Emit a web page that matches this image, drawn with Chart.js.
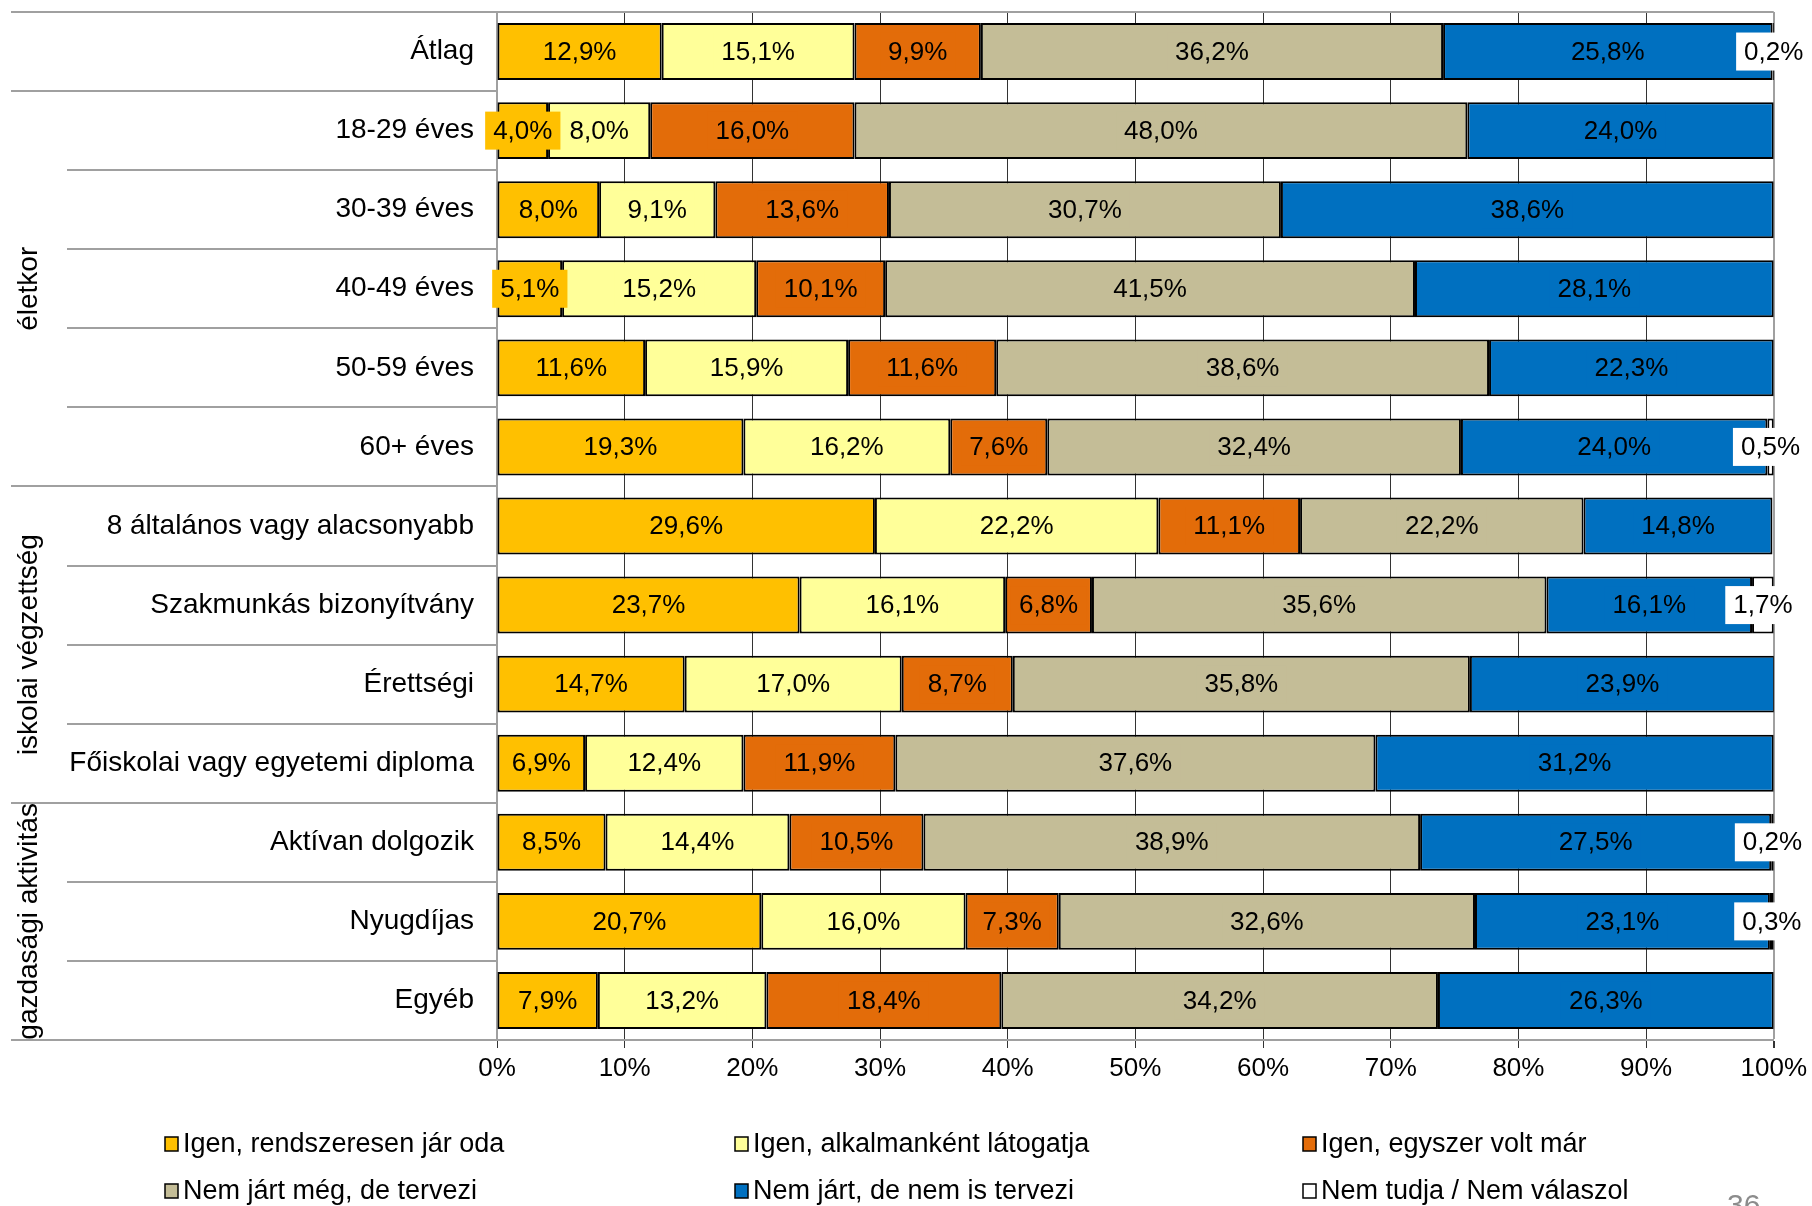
<!DOCTYPE html>
<html>
<head>
<meta charset="utf-8">
<script src="https://cdn.jsdelivr.net/npm/chart.js@4.4.1/dist/chart.umd.min.js"></script>
<style>
  html, body { margin: 0; padding: 0; background: #fff; }
  #wrap { width: 1812px; height: 1206px; position: relative; }
</style>
</head>
<body>
<div id="wrap"><canvas id="chart"></canvas></div>
<script>
// Categories (rows, top to bottom)
const categories = [
    'Átlag',
    '18-29 éves', '30-39 éves', '40-49 éves', '50-59 éves', '60+ éves',
    '8 általános vagy alacsonyabb', 'Szakmunkás bizonyítvány', 'Érettségi', 'Főiskolai vagy egyetemi diploma',
    'Aktívan dolgozik', 'Nyugdíjas', 'Egyéb'
];

// Row groups shown on the left
const groupNames = ['életkor', 'iskolai végzettség', 'gazdasági aktivitás'];
const groupFirst = [1, 6, 10];
const groupLast = [5, 9, 12];

// Series
const seriesNames = [
    'Igen, rendszeresen jár oda',
    'Igen, alkalmanként látogatja',
    'Igen, egyszer volt már',
    'Nem járt még, de tervezi',
    'Nem járt, de nem is tervezi',
    'Nem tudja / Nem válaszol'
];
const seriesColors = ['#FFC000', '#FFFF99', '#E36C09', '#C4BD97', '#0070C0', '#FFFFFF'];

const regularly   = [12.9, 4.0, 8.0, 5.1, 11.6, 19.3, 29.6, 23.7, 14.7, 6.9, 8.5, 20.7, 7.9];
const occasionally = [15.1, 8.0, 9.1, 15.2, 15.9, 16.2, 22.2, 16.1, 17.0, 12.4, 14.4, 16.0, 13.2];
const once        = [9.9, 16.0, 13.6, 10.1, 11.6, 7.6, 11.1, 6.8, 8.7, 11.9, 10.5, 7.3, 18.4];
const planning    = [36.2, 48.0, 30.7, 41.5, 38.6, 32.4, 22.2, 35.6, 35.8, 37.6, 38.9, 32.6, 34.2];
const notPlanning = [25.8, 24.0, 38.6, 28.1, 22.3, 24.0, 14.8, 16.1, 23.9, 31.2, 27.5, 23.1, 26.3];
const dontKnow    = [0.2, 0, 0, 0, 0, 0.5, 0, 1.7, 0, 0, 0.2, 0.3, 0];

const xTicks = [0, 10, 20, 30, 40, 50, 60, 70, 80, 90, 100];

const FONT = '"Liberation Sans", Arial, sans-serif';
const seriesValues = [regularly, occasionally, once, planning, notPlanning, dontKnow];

// Labels inside the segments, with a box in the segment colour
const segmentLabels = {
    id: 'segmentLabels',
    afterDatasetsDraw(chart) {
        const ctx = chart.ctx;
        ctx.save();
        ctx.font = '26px ' + FONT;
        ctx.textAlign = 'center';
        ctx.textBaseline = 'middle';
        chart.data.datasets.forEach((ds, di) => {
            const meta = chart.getDatasetMeta(di);
            meta.data.forEach((bar, i) => {
                const v = ds.data[i];
                if (!v) return;
                const txt = v.toFixed(1).replace('.', ',') + '%';
                const w = ctx.measureText(txt).width;
                const cx = (bar.x + bar.base) / 2;
                ctx.fillStyle = ds.backgroundColor;
                ctx.fillRect(cx - w / 2 - 8, bar.y - 19, w + 16, 38);
                ctx.fillStyle = '#000';
                ctx.fillText(txt, cx, bar.y + 1);
            });
        });
        ctx.restore();
    }
};

// Left side row separators, group names, top border, legend, page number
const decorations = {
    id: 'decorations',
    afterDraw(chart) {
        const ctx = chart.ctx;
        const area = chart.chartArea;
        const y = chart.scales.y;
        const half = (y.getPixelForValue(1) - y.getPixelForValue(0)) / 2;
        ctx.save();

        // row separators
        ctx.strokeStyle = '#A0A0A0';
        ctx.lineWidth = 2;
        for (let i = 0; i <= categories.length; i++) {
            const py = i < categories.length ? y.getPixelForValue(i) - half : y.getPixelForValue(i - 1) + half;
            const groupEdge = i === 0 || i === categories.length || groupFirst.includes(i);
            ctx.beginPath();
            ctx.moveTo(groupEdge ? 11 : 67, Math.round(py));
            ctx.lineTo(i === 0 ? area.right : area.left, Math.round(py));
            ctx.stroke();
        }

        // group names (rotated)
        ctx.fillStyle = '#000';
        ctx.font = '28px ' + FONT;
        ctx.textAlign = 'center';
        ctx.textBaseline = 'middle';
        groupNames.forEach((name, g) => {
            const top = y.getPixelForValue(groupFirst[g]) - half;
            const bottom = y.getPixelForValue(groupLast[g]) + half;
            ctx.save();
            ctx.translate(29, (top + bottom) / 2);
            ctx.rotate(-Math.PI / 2);
            ctx.fillText(name, 0, 0);
            ctx.restore();
        });

        // legend, 3 columns x 2 rows
        const colX = [165, 735, 1303];
        const rowY = [1144, 1191];
        ctx.font = '27px ' + FONT;
        ctx.textAlign = 'left';
        chart.data.datasets.forEach((ds, di) => {
            const lx = colX[di % 3];
            const ly = rowY[Math.floor(di / 3)];
            ctx.fillStyle = ds.backgroundColor;
            ctx.fillRect(lx, ly - 7, 13, 14);
            ctx.strokeStyle = '#000';
            ctx.lineWidth = 1.5;
            ctx.strokeRect(lx, ly - 7, 13, 14);
            ctx.fillStyle = '#000';
            ctx.fillText(ds.label, lx + 18, ly + 1);
        });

        // page number
        ctx.fillStyle = '#8C8C8C';
        ctx.font = '30px ' + FONT;
        ctx.textBaseline = 'top';
        ctx.fillText('36', 1727, 1192);
        ctx.restore();
    }
};

const chart = new Chart(document.getElementById('chart'), {
    type: 'bar',
    data: {
        labels: categories,
        datasets: seriesNames.map((name, i) => ({
            label: name,
            data: seriesValues[i],
            backgroundColor: seriesColors[i],
            borderColor: '#000',
            borderWidth: 2,
            borderSkipped: false,
            categoryPercentage: 1,
            barPercentage: 0.72
        }))
    },
    options: {
        indexAxis: 'y',
        responsive: true,
        maintainAspectRatio: false,
        animation: false,
        devicePixelRatio: 1,
        layout: { padding: { top: 12, right: 38, bottom: 0, left: 0 } },
        plugins: {
            legend: { display: false },
            tooltip: { enabled: false }
        },
        scales: {
            x: {
                stacked: true,
                min: 0,
                max: 100,
                afterBuildTicks(scale) {
                    scale.ticks = xTicks.map(v => ({ value: v }));
                },
                afterFit(scale) { scale.height = 166; },
                ticks: {
                    callback: v => v + '%',
                    color: '#000',
                    font: { size: 26, family: FONT },
                    padding: 5,
                    maxRotation: 0
                },
                grid: {
                    color: c => (c.index === 0 || c.index === xTicks.length - 1) ? '#A0A0A0' : '#333333',
                    lineWidth: c => (c.index === xTicks.length - 1) ? 2 : 1,
                    tickLength: 8,
                    tickColor: '#333333'
                },
                border: { color: '#A0A0A0', width: 2 }
            },
            y: {
                stacked: true,
                afterFit(scale) {
                    scale.width = 497;
                    scale.paddingTop = 0;
                    scale.paddingBottom = 0;
                },
                ticks: {
                    color: '#000',
                    font: { size: 28, family: FONT },
                    padding: 23
                },
                grid: { display: false, drawTicks: false },
                border: { color: '#A0A0A0', width: 2 }
            }
        }
    },
    plugins: [segmentLabels, decorations]
});
</script>
</body>
</html>
